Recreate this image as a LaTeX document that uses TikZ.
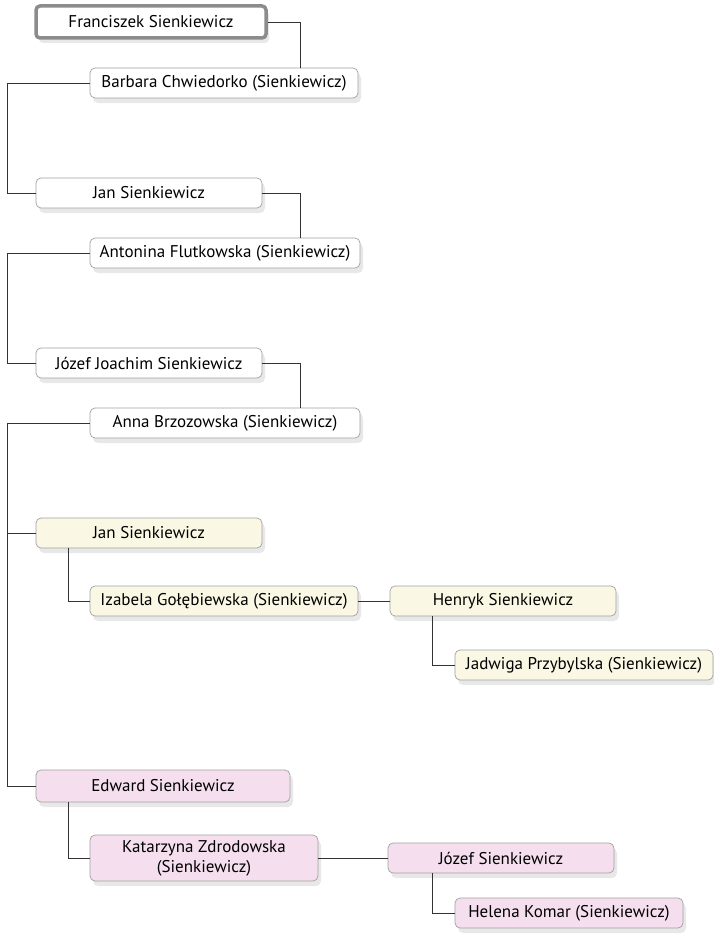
\documentclass[tikz,border=0pt]{standalone}
\usepackage{fontspec}
\setmainfont{PT Sans}
\usetikzlibrary{shadows}
\definecolor{boxline}{HTML}{A0A0A0}
\definecolor{yel}{HTML}{FAF8E4}
\definecolor{pnk}{HTML}{F5DFEE}
\definecolor{conn}{HTML}{333333}
\tikzset{
  person/.style={rectangle, rounded corners=5pt, draw=boxline, line width=0.7pt, fill=white,
    inner sep=0pt, align=center, font=\fontsize{17}{20}\selectfont,
    drop shadow={shadow xshift=3pt, shadow yshift=-5pt, opacity=0.15, fill=black!60}},
  root/.style={person, draw=black!45, line width=3.5pt, rounded corners=4pt},
  yp/.style={person, fill=yel},
  pp/.style={person, fill=pnk},
  link/.style={draw=conn, line width=0.9pt}
}
\begin{document}
\begin{tikzpicture}[x=1pt,y=-1pt]
\useasboundingbox (0,0) rectangle (714,942);
\node[root, minimum width=230, minimum height=32] (fr) at (151,22) {Franciszek Sienkiewicz};
\node[person, minimum width=268, minimum height=30] (ba) at (224,83) {Barbara Chwiedorko (Sienkiewicz)};
\node[person, minimum width=226, minimum height=30] (j1) at (149,193) {Jan Sienkiewicz};
\node[person, minimum width=270, minimum height=30] (at) at (225,253) {Antonina Flutkowska (Sienkiewicz)};
\node[person, minimum width=226, minimum height=30] (jj) at (149,363) {Józef Joachim Sienkiewicz};
\node[person, minimum width=270, minimum height=30] (an) at (225,423) {Anna Brzozowska (Sienkiewicz)};
\node[yp, minimum width=226, minimum height=30] (j2) at (149,533) {Jan Sienkiewicz};
\node[yp, minimum width=268, minimum height=30] (iz) at (224,601) {Izabela Gołębiewska (Sienkiewicz)};
\node[yp, minimum width=226, minimum height=30] (he) at (503,601) {Henryk Sienkiewicz};
\node[yp, minimum width=258, minimum height=30] (jd) at (584,665) {Jadwiga Przybylska (Sienkiewicz)};
\node[pp, minimum width=254, minimum height=32] (ed) at (163,786) {Edward Sienkiewicz};
\node[pp, minimum width=228, minimum height=46] (ka) at (204,858) {Katarzyna Zdrodowska\\(Sienkiewicz)};
\node[pp, minimum width=226, minimum height=30] (jo) at (501,858) {Józef Sienkiewicz};
\node[pp, minimum width=228, minimum height=30] (hl) at (569,913) {Helena Komar (Sienkiewicz)};
\draw[link] (fr.east) -| ([xshift=76pt]ba.north);
\draw[link] (ba.west) -- ++(-82,0) |- (j1.west);
\draw[link] (j1.east) -| ([xshift=75pt]at.north);
\draw[link] (at.west) -- ++(-82,0) |- (jj.west);
\draw[link] (jj.east) -| ([xshift=75pt]an.north);
\draw[link] (an.west) -- ++(-82,0) |- (ed.west);
\draw[link] (j2.west) -- ++(-28,0);
\draw[link] ([xshift=-81pt]j2.south) |- (iz.west);
\draw[link] (iz.east) -- (he.west);
\draw[link] ([xshift=-71pt]he.south) |- (jd.west);
\draw[link] ([xshift=-95pt]ed.south) |- (ka.west);
\draw[link] (ka.east) -- (jo.west);
\draw[link] ([xshift=-69pt]jo.south) |- (hl.west);
\end{tikzpicture}
\end{document}
